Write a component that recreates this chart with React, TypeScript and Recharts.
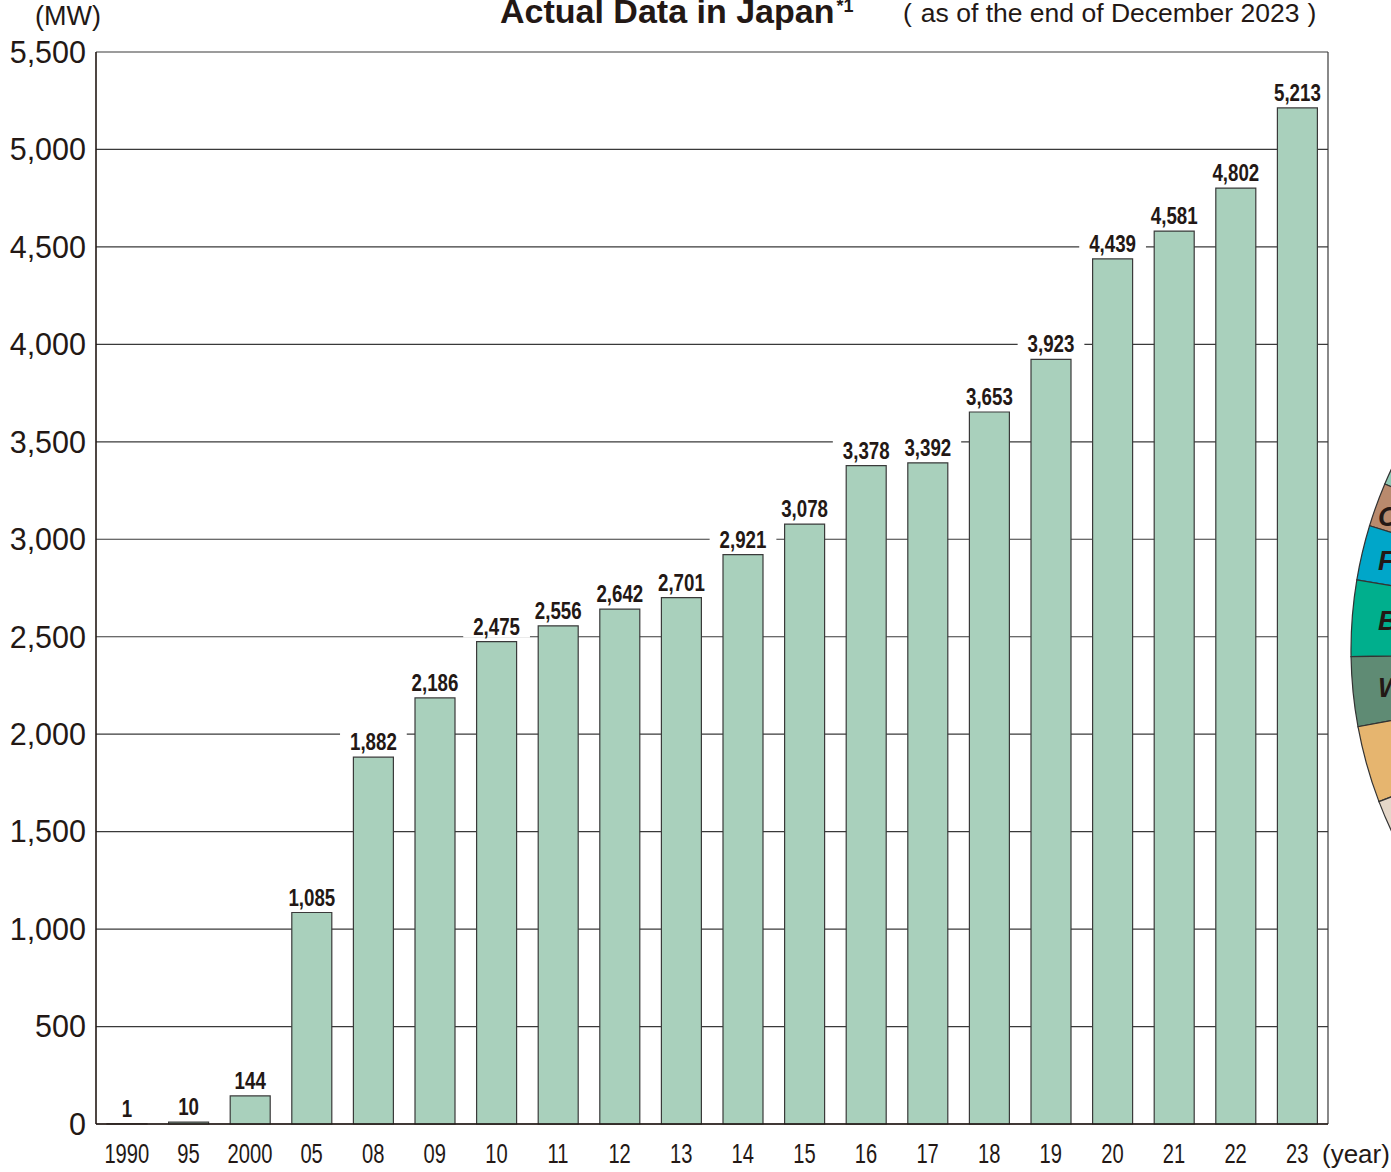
import React from 'react';
import { BarChart, Bar, XAxis, YAxis, CartesianGrid, LabelList, PieChart, Pie, Cell } from 'recharts';

// Installed capacity by year (MW)
const years = ['1990', '95', '2000', '05', '08', '09', '10', '11', '12', '13', '14', '15', '16', '17', '18', '19', '20', '21', '22', '23'];
const capacityMW = [1, 10, 144, 1085, 1882, 2186, 2475, 2556, 2642, 2701, 2921, 3078, 3378, 3392, 3653, 3923, 4439, 4581, 4802, 5213];
const yTicks = [0, 500, 1000, 1500, 2000, 2500, 3000, 3500, 4000, 4500, 5000, 5500];

// Neighbouring breakdown pie (only its left rim is on the page)
const pieShares = [12, 6, 7.5, 10.4, 9.5, 10.5, 14.1];
const pieColors = ['#8ec8b4', '#b98a6d', '#00a6c9', '#00af8d', '#5f8b74', '#e6b56f', '#e5d7c9'];
const pieLetters = ['', 'C', 'F', 'B', 'W', '', ''];

const W = 1391;
const H = 1172;
const MARGIN = { top: 52, right: 63, left: 0, bottom: 0 };
const PLOT_RIGHT = W - MARGIN.right;
const FONT = "'Liberation Sans', Arial, Helvetica, sans-serif";
const INK = '#231815';

const barData = years.map((year, i) => ({ year, value: capacityMW[i] }));
const pieData = pieShares.map((share, i) => ({ name: pieLetters[i] || `s${i}`, share }));

const XTick = (props: any) => {
  const { x, y, payload } = props;
  return (
    <g transform={`translate(${x},${y + 39})`}>
      <text transform="scale(0.72,1)" textAnchor="middle" fontSize={28} fontFamily={FONT} fill={INK}>
        {payload.value}
      </text>
    </g>
  );
};

// Bold condensed value label on a white patch that interrupts the grid lines
const ValueLabel = (props: any) => {
  const { x, y, width, value } = props;
  const cx = Number(x) + Number(width) / 2;
  const text = Number(value).toLocaleString('en-US');
  const digits = text.replace(/,/g, '').length;
  const commas = text.length - digits;
  const w = (digits * 13.3 + commas * 6.7) * 0.78;
  const left = cx - w / 2 - 10;
  const right = Math.min(cx + w / 2 + 10, PLOT_RIGHT - 2);
  return (
    <g>
      <rect x={left} y={y - 27} width={right - left} height={23} fill="#ffffff" />
      <text
        transform={`translate(${cx},${y - 7}) scale(0.78,1)`}
        textAnchor="middle"
        fontSize={24}
        fontWeight="bold"
        fontFamily={FONT}
        fill={INK}
      >
        {text}
      </text>
    </g>
  );
};

const RAD = Math.PI / 180;
const PieLetter = (props: any) => {
  const { cx, cy, midAngle, index } = props;
  const letter = pieLetters[index];
  if (!letter) return null;
  const y = cy + 390 * Math.sin(-midAngle * RAD);
  const x = cx - 398;
  return (
    <text x={x} y={y} textAnchor="start" dominantBaseline="central" fontSize={27} fontWeight="bold" fontStyle="italic" fontFamily={FONT} fill={INK}>
      {letter}
    </text>
  );
};

export default function App() {
  return (
    <div style={{ position: 'absolute', left: 0, top: 0, width: W, height: H, background: '#fff', overflow: 'hidden', fontFamily: FONT }}>
      <div style={{ position: 'absolute', left: 0, top: 0 }}>
        <BarChart width={W} height={H} data={barData} margin={MARGIN} barCategoryGap={0}>
          <CartesianGrid
            stroke="#3a3a3a"
            strokeWidth={1.2}
            vertical={true}
            verticalCoordinatesGenerator={({ offset }: any) => [offset.left + offset.width]}
          />
          <XAxis
            dataKey="year"
            interval={0}
            tickLine={false}
            tickSize={0}
            tickMargin={0}
            height={48}
            axisLine={{ stroke: INK, strokeWidth: 1.6 }}
            tick={<XTick />}
          />
          <YAxis
            domain={[0, 5500]}
            ticks={yTicks}
            interval={0}
            width={96}
            tickLine={false}
            tickSize={0}
            tickMargin={10}
            axisLine={{ stroke: INK, strokeWidth: 1.6 }}
            tickFormatter={(v: number) => v.toLocaleString('en-US')}
            tick={{ fontSize: 30.5, fill: INK, fontFamily: FONT }}
          />
          <Bar dataKey="value" barSize={40} fill="#a9d0bc" stroke="#3a3a3a" strokeWidth={1.2} isAnimationActive={false}>
            <LabelList dataKey="value" content={<ValueLabel />} />
          </Bar>
        </BarChart>
      </div>

      <div style={{ position: 'absolute', left: 0, top: 0, pointerEvents: 'none' }}>
        <PieChart width={W} height={H} margin={{ top: 0, right: 0, left: 0, bottom: 0 }}>
          <Pie
            data={pieData}
            dataKey="share"
            cx={1776}
            cy={650}
            innerRadius={0}
            outerRadius={425}
            startAngle={145}
            endAngle={215}
            stroke="#333333"
            strokeWidth={1.2}
            labelLine={false}
            label={<PieLetter />}
            isAnimationActive={false}
          >
            {pieData.map((d, i) => (
              <Cell key={d.name} fill={pieColors[i]} />
            ))}
          </Pie>
        </PieChart>
      </div>

      <svg width={W} height={H} style={{ position: 'absolute', left: 0, top: 0, pointerEvents: 'none' }}>
        <text x={35} y={25} fontSize={27} fontFamily={FONT} fill={INK}>(MW)</text>
        <text x={500} y={23} fontSize={34} fontWeight="bold" fontFamily={FONT} fill={INK}>
          Actual Data in Japan
          <tspan fontSize={18} dy={-11} dx={2}>*1</tspan>
        </text>
        <text x={903} y={22} fontSize={26.5} fontFamily={FONT} fill={INK}>
          (<tspan dx={9}>as of the end of December 2023</tspan><tspan dx={8}>)</tspan>
        </text>
        <text x={1322} y={1163} fontSize={26} fontFamily={FONT} fill={INK}>(year)</text>
      </svg>
    </div>
  );
}
